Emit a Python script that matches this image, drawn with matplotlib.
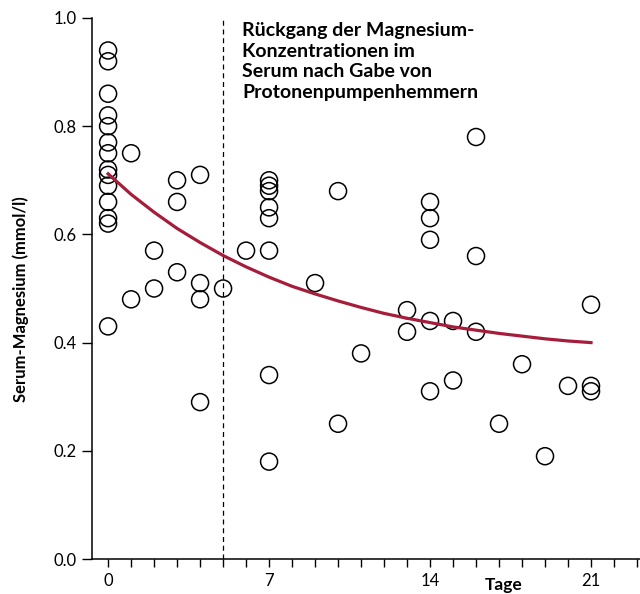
import matplotlib.pyplot as plt

plt.rcParams['font.family'] = ['Lato', 'DejaVu Sans']

# measured points (day, serum magnesium mmol/l)
days = [0, 0, 0, 0, 0, 0, 0, 0, 0, 0, 0, 0, 0, 0,
        1, 1, 2, 2, 3, 3, 3, 4, 4, 4, 4, 5, 6,
        7, 7, 7, 7, 7, 7, 7, 7, 9, 10, 10, 11, 13, 13,
        14, 14, 14, 14, 14, 15, 15, 16, 16, 16, 17, 18, 19, 20, 21, 21, 21]
mg = [0.94, 0.92, 0.86, 0.82, 0.80, 0.77, 0.75, 0.72, 0.71, 0.69, 0.66, 0.63, 0.62, 0.43,
      0.75, 0.48, 0.57, 0.50, 0.70, 0.66, 0.53, 0.71, 0.51, 0.48, 0.29, 0.50, 0.57,
      0.70, 0.69, 0.68, 0.65, 0.63, 0.57, 0.34, 0.18, 0.51, 0.68, 0.25, 0.38, 0.46, 0.42,
      0.66, 0.63, 0.59, 0.44, 0.31, 0.44, 0.33, 0.78, 0.56, 0.42, 0.25, 0.36, 0.19, 0.32, 0.47, 0.32, 0.31]

# trend curve
curve_days = list(range(0, 22))
curve_mg = [0.712, 0.674, 0.641, 0.611, 0.585, 0.561, 0.540, 0.521, 0.504, 0.490, 0.477,
            0.465, 0.454, 0.445, 0.437, 0.429, 0.423, 0.417, 0.412, 0.407, 0.403, 0.400]

x_ticks = [0, 7, 14, 21]
y_ticks = [0.0, 0.2, 0.4, 0.6, 0.8, 1.0]
title = "Rückgang der Magnesium-\nKonzentrationen im\nSerum nach Gabe von\nProtonenpumpenhemmern"

fig = plt.figure(figsize=(6.4, 5.94), dpi=100)
ax = fig.add_axes([92 / 640, 1 - 559 / 594, 548 / 640, 541 / 594])

ax.plot(curve_days, curve_mg, color='#a51d3a', linewidth=2.3, zorder=3)
ax.scatter(days, mg, s=150, facecolors='none', edgecolors='black', linewidths=1.1, zorder=2)
ax.axvline(5, color='black', linestyle=(0, (4, 3)), linewidth=0.9, zorder=1)

ax.set_xlim(-0.7, 23.13)
ax.set_ylim(0, 1.0)
ax.set_xticks(range(0, 24))
ax.set_xticklabels([str(d) if d in x_ticks else '' for d in range(0, 24)])
ax.set_yticks(y_ticks)
ax.set_yticklabels([f"{v:.1f}" for v in y_ticks])
ax.tick_params(axis='x', length=6, width=1, labelsize=12, pad=4)
ax.tick_params(axis='y', length=7, width=1, labelsize=12, pad=4)

for s in ['top', 'right']:
    ax.spines[s].set_visible(False)
for s in ['left', 'bottom']:
    ax.spines[s].set_linewidth(1.1)

ax.set_ylabel('Serum-Magnesium (mmol/l)', fontsize=12, fontweight='bold')
ax.yaxis.set_label_coords(-0.115, 0.48)
ax.text(17.2, -0.033, 'Tage', fontsize=12.5, fontweight='bold', ha='center', va='top')
ax.text(5.83, 0.992, title, fontsize=14, fontweight='bold', ha='left', va='top',
        linespacing=1.25)

fig.savefig('out.png', dpi=100)
